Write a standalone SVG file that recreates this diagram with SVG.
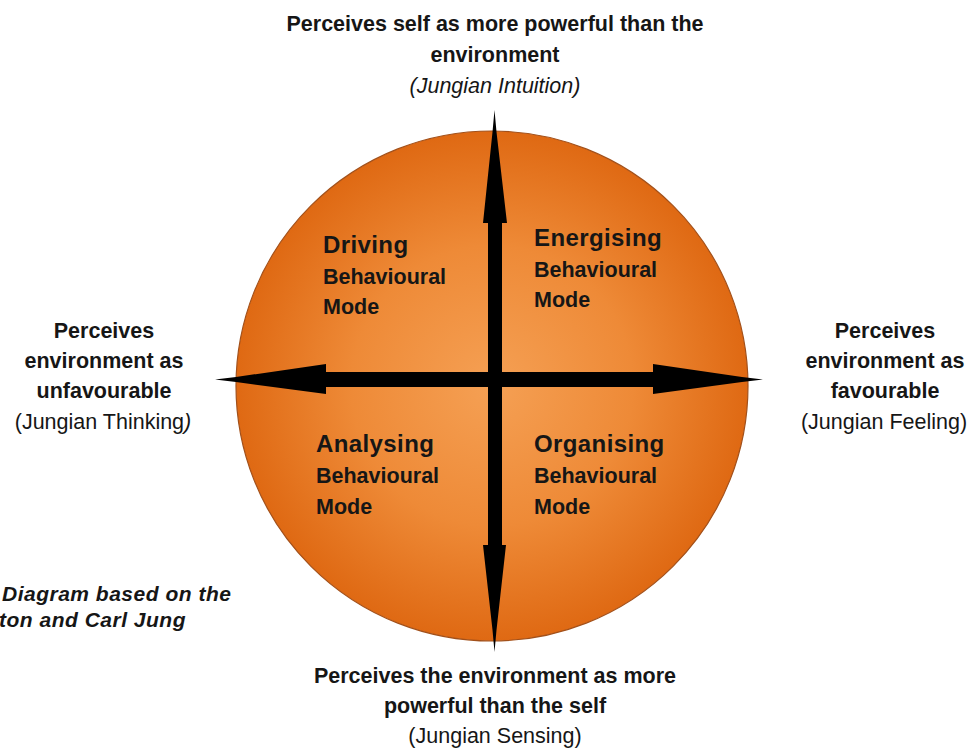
<svg xmlns="http://www.w3.org/2000/svg" width="973" height="751" viewBox="0 0 973 751">
  <defs>
    <radialGradient id="sphere" cx="0.5" cy="0.5" r="0.5">
      <stop offset="0" stop-color="#f5a054"/>
      <stop offset="0.55" stop-color="#ee8a37"/>
      <stop offset="1" stop-color="#df6913"/>
    </radialGradient>
    <style>
      .lbl { font-family: "Liberation Sans", Arial, sans-serif; fill: #161616; text-anchor: middle; font-size: 21.5px; }
      .b { font-weight: bold; }
      .i { font-style: italic; }
      .q { font-family: "Liberation Sans", Arial, sans-serif; fill: #161616; font-weight: bold; }
      .qh { font-size: 24px; letter-spacing: 0.4px; }
      .qs { font-size: 21.5px; }
      .note { font-family: "Liberation Sans", Arial, sans-serif; font-weight: bold; font-style: italic; font-size: 21px; letter-spacing: 0.5px; fill: #161616; }
      .arrow { fill: #000; }
    </style>
  </defs>
  <rect width="973" height="751" fill="#fff"/>

  <!-- central disc -->
  <g id="disc">
    <ellipse cx="492" cy="386" rx="256" ry="255" fill="url(#sphere)" stroke="#a2501a" stroke-width="1.2"/>
  </g>

  <!-- axis arrows -->
  <g id="connectors">
    <rect class="arrow" x="325" y="372" width="329" height="15"/>
    <rect class="arrow" x="488" y="223" width="14" height="323"/>
    <polygon class="arrow" points="326,364 236,377 215,379.5 236,382 326,394"/>
    <polygon class="arrow" points="653,364 742,377 763,379.5 742,382 653,394"/>
    <polygon class="arrow" points="483,223 492.5,132 494.5,110 496.5,132 507,223"/>
    <polygon class="arrow" points="483,545 492.5,630 494.5,652 496.5,630 506,545"/>
  </g>

  <g id="top-label">
    <text class="lbl b" x="495" y="31">Perceives self as more powerful than the</text>
    <text class="lbl b" x="495" y="62">environment</text>
    <text class="lbl i" x="495" y="93" font-size="22.5">(Jungian Intuition)</text>
  </g>

  <g id="left-label">
    <text class="lbl b" x="104" y="338">Perceives</text>
    <text class="lbl b" x="104" y="368">environment as</text>
    <text class="lbl b" x="104" y="398">unfavourable</text>
    <text class="lbl" x="103" y="429" font-size="22">(Jungian Thinking<tspan class="i">)</tspan></text>
  </g>

  <g id="right-label">
    <text class="lbl b" x="885" y="338">Perceives</text>
    <text class="lbl b" x="885" y="368">environment as</text>
    <text class="lbl b" x="885" y="398">favourable</text>
    <text class="lbl" x="884" y="429">(Jungian Feeling)</text>
  </g>

  <g id="bottom-label">
    <text class="lbl b" x="495" y="683">Perceives the environment as more</text>
    <text class="lbl b" x="495" y="713">powerful than the self</text>
    <text class="lbl" x="495" y="743">(Jungian Sensing)</text>
  </g>

  <g id="driving">
    <text class="q qh" x="323" y="253">Driving</text>
    <text class="q qs" x="323" y="284">Behavioural</text>
    <text class="q qs" x="323" y="314">Mode</text>
  </g>
  <g id="energising">
    <text class="q qh" x="534" y="246">Energising</text>
    <text class="q qs" x="534" y="277">Behavioural</text>
    <text class="q qs" x="534" y="307">Mode</text>
  </g>
  <g id="analysing">
    <text class="q qh" x="316" y="452">Analysing</text>
    <text class="q qs" x="316" y="483">Behavioural</text>
    <text class="q qs" x="316" y="514">Mode</text>
  </g>
  <g id="organising">
    <text class="q qh" x="534" y="452">Organising</text>
    <text class="q qs" x="534" y="483">Behavioural</text>
    <text class="q qs" x="534" y="514">Mode</text>
  </g>

  <g id="source-note">
    <text class="note" x="2" y="601">Diagram based on the</text>
    <text class="note" x="-1" y="627">ton and Carl Jung</text>
  </g>
</svg>
